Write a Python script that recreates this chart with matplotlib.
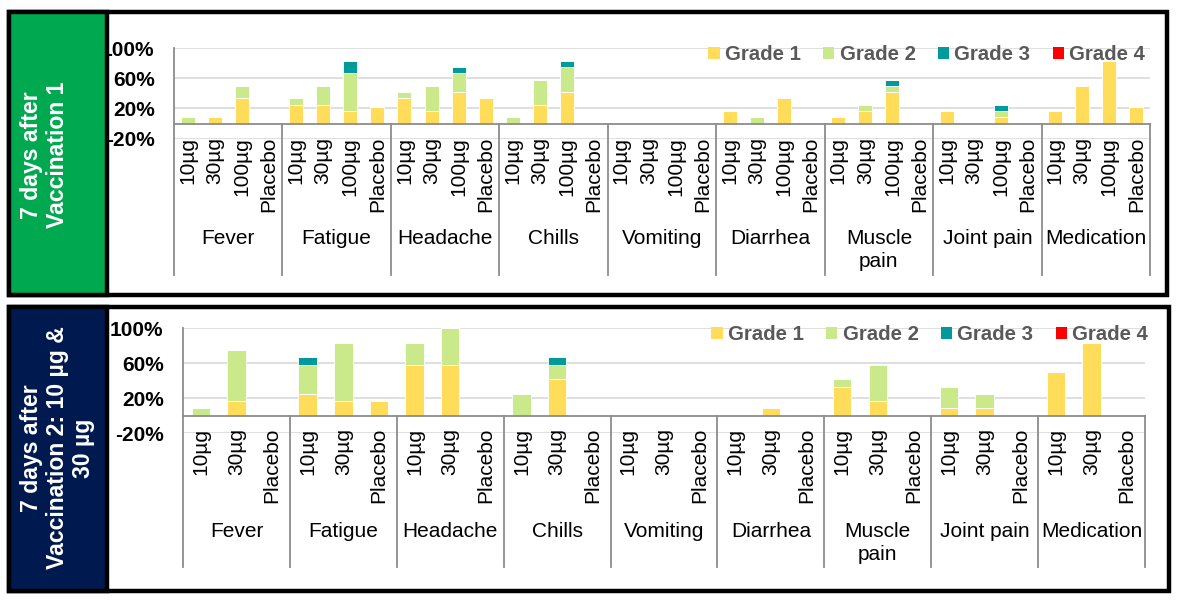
import matplotlib
matplotlib.use('Agg')
import numpy as np
import matplotlib.pyplot as plt
from matplotlib.patches import Rectangle, Patch

plt.rcParams['font.family'] = ['Liberation Sans', 'DejaVu Sans']

W, H = 1177, 601

symptoms = ['Fever', 'Fatigue', 'Headache', 'Chills', 'Vomiting', 'Diarrhea',
            'Muscle\npain', 'Joint pain', 'Medication']
grades = ['Grade 1', 'Grade 2', 'Grade 3', 'Grade 4']
colors = ['#FFDC5A', '#C9E98A', '#009A9A', '#FF0000']

# vaccination 1: doses per symptom, percent of participants
doses1 = ['10µg', '30µg', '100µg', 'Placebo']
v1_grade1 = [[0, 8.3, 33.3, 0], [25, 25, 16.7, 22.2], [33.3, 16.7, 41.7, 33.3],
             [0, 25, 41.7, 0], [0, 0, 0, 0], [16.7, 0, 33.3, 0],
             [8.3, 16.7, 41.7, 0], [16.7, 0, 8.3, 0], [16.7, 50, 83.3, 22.2]]
v1_grade2 = [[8.3, 0, 16.7, 0], [8.3, 25, 50, 0], [8.3, 33.3, 25, 0],
             [8.3, 33.3, 33.3, 0], [0, 0, 0, 0], [0, 8.3, 0, 0],
             [0, 8.3, 8.3, 0], [0, 0, 8.3, 0], [0, 0, 0, 0]]
v1_grade3 = [[0, 0, 0, 0], [0, 0, 16.7, 0], [0, 0, 8.3, 0],
             [0, 0, 8.3, 0], [0, 0, 0, 0], [0, 0, 0, 0],
             [0, 0, 8.3, 0], [0, 0, 8.3, 0], [0, 0, 0, 0]]
v1_grade4 = [[0, 0, 0, 0]] * 9

# vaccination 2
doses2 = ['10µg', '30µg', 'Placebo']
v2_grade1 = [[0, 16.7, 0], [25, 16.7, 16.7], [58.3, 58.3, 0], [0, 41.7, 0],
             [0, 0, 0], [0, 8.3, 0], [33.3, 16.7, 0], [8.3, 8.3, 0], [50, 83.3, 0]]
v2_grade2 = [[8.3, 58.3, 0], [33.3, 66.7, 0], [25, 41.7, 0], [25, 16.7, 0],
             [0, 0, 0], [0, 0, 0], [8.3, 41.7, 0], [25, 16.7, 0], [0, 0, 0]]
v2_grade3 = [[0, 0, 0], [8.3, 0, 0], [0, 0, 0], [0, 8.3, 0],
             [0, 0, 0], [0, 0, 0], [0, 0, 0], [0, 0, 0], [0, 0, 0]]
v2_grade4 = [[0, 0, 0]] * 9

yticks = [-20, 20, 60, 100]


def fx(x):
    return x / W


def fy(y):
    return 1 - y / H


fig = plt.figure(figsize=(W / 100, H / 100), dpi=100)


def frame(x0, y0, x1, y1, box_x1, fill, label, tx, ty):
    fig.patches.append(Rectangle((fx(x0), fy(y1)), fx(x1) - fx(x0), fy(y0) - fy(y1),
                                 transform=fig.transFigure, fill=False,
                                 edgecolor='black', linewidth=3.2))
    fig.patches.append(Rectangle((fx(x0), fy(y1)), fx(box_x1) - fx(x0), fy(y0) - fy(y1),
                                 transform=fig.transFigure, facecolor=fill,
                                 edgecolor='black', linewidth=3.2))
    fig.text(fx(tx), fy(ty), label, rotation=90, ha='center', va='center',
             multialignment='center', color='white', fontsize=16.6,
             fontweight='bold', linespacing=1.15)


def panel(box, doses, g1, g2, g3, g4, sep_pix, tick_pix, group_pix, legend_xy):
    left, top, right, bottom = box
    ax = fig.add_axes([fx(left), fy(bottom), fx(right) - fx(left), fy(top) - fy(bottom)])
    n = len(doses)
    ng = len(symptoms)
    ymin, ymax = -20, 100

    def ydata(pix):
        return ymax - (pix - top) * (ymax - ymin) / (bottom - top)

    xs = np.array([g * n + s + 0.5 for g in range(ng) for s in range(n)])
    series = [np.array(a).ravel() for a in (g1, g2, g3, g4)]
    base = np.zeros(len(xs))
    handles = []
    for vals, c, lab in zip(series, colors, grades):
        ax.bar(xs, vals, 0.52, bottom=base, color=c, edgecolor='white',
               linewidth=0.6, zorder=3)
        base = base + vals
        handles.append(Patch(facecolor=c, edgecolor='none', label=lab))

    ax.set_xlim(0, ng * n)
    ax.set_ylim(ymin, ymax)
    ax.set_yticks(yticks)
    ax.set_yticklabels(['{}%'.format(t) for t in yticks], fontsize=15, fontweight='bold')
    ax.tick_params(axis='y', length=0, pad=14)
    ax.set_xticks([])
    ax.grid(axis='y', color='#D9D9D9', linewidth=1.2, zorder=0)
    for s in ax.spines.values():
        s.set_visible(False)

    line = dict(color='#8C8C8C', linewidth=1.3, clip_on=False, zorder=4)
    ax.plot([0, ng * n], [0, 0], **line)
    ybot = ydata(sep_pix)
    ax.plot([0, 0], [ymax, ybot], **line)
    for g in range(1, ng + 1):
        ax.plot([g * n, g * n], [0, ybot], **line)

    for i, x in enumerate(xs):
        ax.text(x, ydata(tick_pix), doses[i % n], rotation=90, ha='center', va='top',
                fontsize=15, clip_on=False)
    for g, name in enumerate(symptoms):
        ax.text(g * n + n / 2, ydata(group_pix), name, ha='center', va='top',
                fontsize=15, clip_on=False, linespacing=1.25)

    ax.legend(handles=handles, loc='center right', ncol=4, frameon=False,
              bbox_to_anchor=(fx(legend_xy[0]), fy(legend_xy[1])),
              bbox_transform=fig.transFigure, borderpad=0, borderaxespad=0,
              handlelength=0.55, handleheight=0.55, handletextpad=0.25,
              columnspacing=1.1, labelcolor='#595959',
              prop={'size': 14.7, 'weight': 'bold'})
    return ax


frame(9, 12, 1167, 295, 107, '#00A94F', '7 days after\nVaccination 1', 44.5, 155)
frame(9, 306.5, 1168.5, 590.5, 107, '#001A4F', '7 days after\nVaccination 2: 10 µg &\n30 µg', 57.5, 448)

panel((174, 48, 1150, 138.7), doses1, v1_grade1, v1_grade2, v1_grade3, v1_grade4,
      275, 137, 229, (1145, 55))
panel((183, 328, 1145, 433.3), doses2, v2_grade1, v2_grade2, v2_grade3, v2_grade4,
      567, 428, 522, (1148, 335))

fig.savefig('out.png', dpi=100)
